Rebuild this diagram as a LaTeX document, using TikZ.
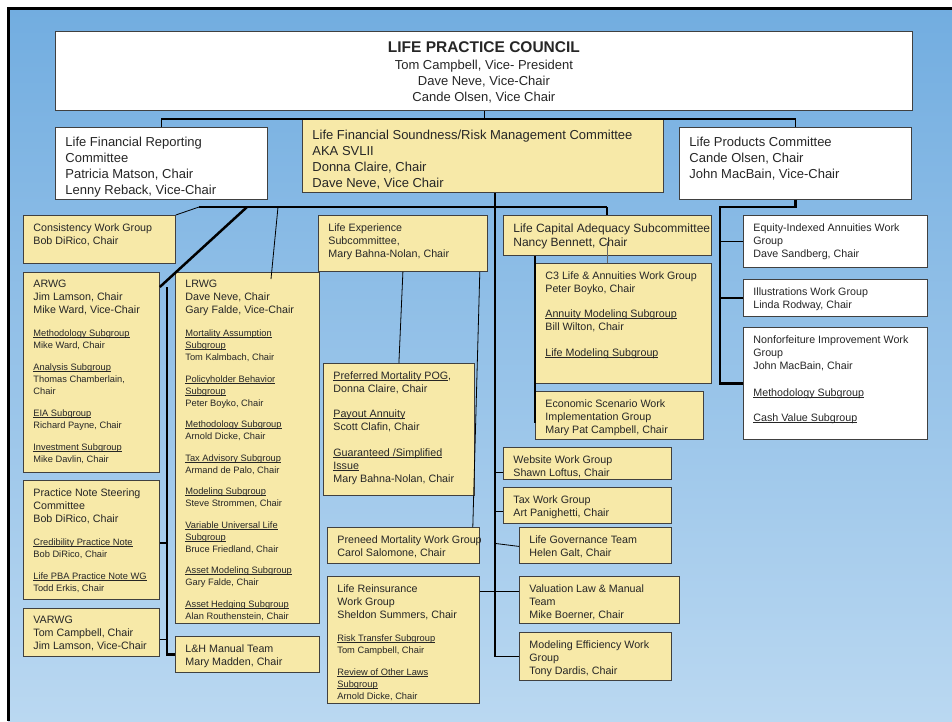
\documentclass[tikz,border=0pt]{standalone}
\usepackage{fontspec}
\setmainfont{Liberation Sans}

\definecolor{boxyellow}{RGB}{247,233,168}
\definecolor{bgtop}{RGB}{114,173,224}
\definecolor{bgbot}{RGB}{186,216,241}

\newcommand{\txttitle}{\fontsize{15.5}{17}\selectfont\bfseries}
\newcommand{\txttop}{\fontsize{13}{16}\selectfont}
\newcommand{\txtmid}{\fontsize{12}{14}\selectfont}
\newcommand{\txtbody}{\fontsize{10.7}{13}\selectfont}
\newcommand{\txtsmall}{\fontsize{9.3}{12}\selectfont}
% box body: [top pad] width, height, text
\newcommand{\boxtxt}[4][8pt]{\parbox[c][#3][t]{#2}{\raggedright\leftskip=10pt\vspace*{#1}#4}}
% underline close to the baseline
\newsavebox{\undlbox}
\newcommand{\undl}[1]{\leavevmode\sbox{\undlbox}{#1}\rlap{\rule[-1.3pt]{\wd\undlbox}{0.7pt}}\usebox{\undlbox}}

\begin{document}
\begin{tikzpicture}[x=1pt, y=-1pt,
    ybox/.style = {draw=black!75, line width=0.8pt, fill=boxyellow,
                   inner sep=0pt, anchor=north west, text=black!85},
    wbox/.style = {ybox, fill=white},
    link/.style = {draw=black, line width=0.8pt},
    bus/.style = {draw=black, line width=1.7pt},
    heavy/.style = {draw=black, line width=2.5pt}]
  \useasboundingbox (0,0) rectangle (952,721);
  \fill[white] (0,0) rectangle (952,721);
  \shade[top color=bgtop, bottom color=bgbot] (8,8) rectangle (952,721);
  \draw[line width=3pt] (952,8) -- (8,8) -- (8,721);

  % council and committees
  \node[wbox] (council) at (55,31) {\parbox[c][79pt][t]{857pt}{\centering\vspace*{10pt}%
      {\txttitle LIFE PRACTICE COUNCIL\par}\vspace{1pt}%
      \txttop Tom Campbell, Vice- President\\Dave Neve, Vice-Chair\\Cande Olsen, Vice Chair\par}};
  \node[wbox] (lfr) at (55,127) {\boxtxt[10pt]{212pt}{72pt}{\txttop Life Financial Reporting\\Committee\\Patricia Matson, Chair\\Lenny Reback, Vice-Chair}};
  \node[ybox] (svl) at (302,119) {\boxtxt[11pt]{361pt}{73pt}{\txttop Life Financial Soundness/Risk Management Committee\\AKA SVLII\\Donna Claire, Chair\\Dave Neve, Vice Chair}};
  \node[wbox] (lpc) at (679,127) {\boxtxt[10pt]{232pt}{72pt}{\txttop Life Products Committee\\Cande Olsen, Chair\\John MacBain, Vice-Chair}};

  % left column
  \node[ybox] (cwg) at (23,215) {\boxtxt{152pt}{48pt}{\txtbody Consistency Work Group\\Bob DiRico, Chair}};
  \node[ybox] (arwg) at (23,272) {\boxtxt{136pt}{200pt}{\txtbody ARWG\\Jim Lamson, Chair\\Mike Ward, Vice-Chair\par
      \vspace{11pt}\txtsmall\undl{Methodology Subgroup}\\Mike Ward, Chair\par
      \vspace{10pt}\undl{Analysis Subgroup}\\Thomas Chamberlain,\\Chair\par
      \vspace{10pt}\undl{EIA Subgroup}\\Richard Payne, Chair\par
      \vspace{10pt}\undl{Investment Subgroup}\\Mike Davlin, Chair}};
  \node[ybox] (pnsc) at (23,480) {\boxtxt{136pt}{119pt}{\txtbody Practice Note Steering\\Committee\\Bob DiRico, Chair\par
      \vspace{11pt}\txtsmall\undl{Credibility Practice Note}\\Bob DiRico, Chair\par
      \vspace{10pt}\undl{Life PBA Practice Note WG}\\Todd Erkis, Chair}};
  \node[ybox] (varwg) at (23,608) {\boxtxt{136pt}{48pt}{\txtbody VARWG\\Tom Campbell, Chair\\Jim Lamson, Vice-Chair}};

  % LRWG column
  \node[ybox] (lrwg) at (175,272) {\boxtxt{144pt}{351pt}{\txtbody LRWG\\Dave Neve, Chair\\Gary Falde, Vice-Chair\par
      \vspace{11pt}\txtsmall\undl{Mortality Assumption}\\\undl{Subgroup}\\Tom Kalmbach, Chair\par
      \vspace{9.5pt}\undl{Policyholder Behavior}\\\undl{Subgroup}\\Peter Boyko, Chair\par
      \vspace{9.5pt}\undl{Methodology Subgroup}\\Arnold Dicke, Chair\par
      \vspace{9.5pt}\undl{Tax Advisory Subgroup}\\Armand de Palo, Chair\par
      \vspace{9.5pt}\undl{Modeling Subgroup}\\Steve Strommen, Chair\par
      \vspace{9.5pt}\undl{Variable Universal Life}\\\undl{Subgroup}\\Bruce Friedland, Chair\par
      \vspace{9.5pt}\undl{Asset Modeling Subgroup}\\Gary Falde, Chair\par
      \vspace{9.5pt}\undl{Asset Hedging Subgroup}\\Alan Routhenstein, Chair}};
  \node[ybox] (lhm) at (175,636) {\boxtxt{144pt}{36pt}{\txtbody L\&H Manual Team\\Mary Madden, Chair}};

  % experience column
  \node[ybox] (lexp) at (318,215) {\boxtxt{169pt}{56pt}{\txtbody Life Experience\\Subcommittee,\\Mary Bahna-Nolan, Chair}};
  \node[ybox] (pmpog) at (323,363) {\boxtxt{151pt}{132pt}{\txtbody \undl{Preferred Mortality POG},\\Donna Claire, Chair\\[12.5pt]
      \undl{Payout Annuity}\\Scott Clafin, Chair\\[12.5pt]
      \undl{Guaranteed /Simplified}\\\undl{Issue}\\Mary Bahna-Nolan, Chair}};
  \node[ybox] (preneed) at (327,527) {\boxtxt{152pt}{36pt}{\txtbody \mbox{Preneed Mortality Work Group}\\Carol Salomone, Chair}};
  \node[ybox] (reins) at (327,576) {\boxtxt{152pt}{127pt}{\txtbody Life Reinsurance\\Work Group\\Sheldon Summers, Chair\par
      \vspace{11pt}\txtsmall\undl{Risk Transfer Subgroup}\\Tom Campbell, Chair\par
      \vspace{10pt}\undl{Review of Other Laws}\\\undl{Subgroup}\\Arnold Dicke, Chair}};

  % capital column
  \node[ybox] (lca) at (503,215) {\boxtxt{208pt}{40pt}{\txtmid \mbox{Life Capital Adequacy Subcommittee}\\Nancy Bennett, Chair}};
  \node[ybox] (c3) at (535,263) {\boxtxt{176pt}{120pt}{\txtbody C3 Life \& Annuities Work Group\\Peter Boyko, Chair\\[12.5pt]
      \undl{Annuity Modeling Subgroup}\\Bill Wilton, Chair\\[12.5pt]
      \undl{Life Modeling Subgroup}}};
  \node[ybox] (esw) at (535,391) {\boxtxt{168pt}{48pt}{\txtbody Economic Scenario Work\\Implementation Group\\Mary Pat Campbell, Chair}};
  \node[ybox] (web) at (503,447) {\boxtxt{168pt}{32pt}{\txtbody Website Work Group\\Shawn Loftus, Chair}};
  \node[ybox] (tax) at (503,487) {\boxtxt{168pt}{36pt}{\txtbody Tax Work Group\\Art Panighetti, Chair}};
  \node[ybox] (gov) at (519,527) {\boxtxt{152pt}{36pt}{\txtbody Life Governance Team\\Helen Galt, Chair}};
  \node[ybox] (vlm) at (519,576) {\boxtxt{160pt}{47pt}{\txtbody Valuation Law \& Manual\\Team\\Mike Boerner, Chair}};
  \node[ybox] (mew) at (519,632) {\boxtxt{152pt}{48pt}{\txtbody Modeling Efficiency Work\\Group\\Tony Dardis, Chair}};

  % products column
  \node[wbox] (eia) at (743,215) {\boxtxt{184pt}{52pt}{\txtbody Equity-Indexed Annuities Work\\Group\\Dave Sandberg, Chair}};
  \node[wbox] (illus) at (743,279) {\boxtxt{184pt}{37pt}{\txtbody Illustrations Work Group\\Linda Rodway, Chair}};
  \node[wbox] (nonf) at (743,327) {\boxtxt{184pt}{112pt}{\txtbody Nonforfeiture Improvement Work\\Group\\John MacBain, Chair\\[14pt]
      \undl{Methodology Subgroup}\\[12pt]
      \undl{Cash Value Subgroup}}};

  % connectors
  \coordinate (barL) at (199,207);
  \coordinate (barR) at (607,207);
  \coordinate (tapA) at (247,207);
  \coordinate (tapL) at (278,207);
  \coordinate (spx) at (495,207);
  \coordinate (arx) at (167,287);
  \coordinate (rx) at (720,207);

  \draw[link] (council.south) -- ++(0,9);
  \draw[bus] (lfr.north) -- ++(0,-8) -| (lpc.north);
  \draw[bus] (svl.south -| spx) |- (mew.west);
  \draw[bus] (barL) -- (barR);
  \draw[link] (barL) -- (cwg.north east);
  \draw[heavy] (tapA) -- ([yshift=-15pt]arwg.north east);
  \draw[link] (tapL) -- ([shift={(96pt,-7pt)}]lrwg.north west);
  \draw[heavy] (arx) |- (lhm.west);
  \draw[bus] ([yshift=-3pt]pnsc.east) -- ++(8,0);
  \draw[bus] ([yshift=-7pt]varwg.east) -- ++(8,0);

  \draw[link] (lexp.south) -- (pmpog.north);
  \draw[link] ([xshift=-8pt]lexp.south east) -- ([xshift=-7pt]preneed.north east);
  \draw[link] ([yshift=-15pt]reins.north east) -- ++(16,0);

  \draw[bus] (barR) -- (barR |- lca.north);
  \draw[link, draw=black!60] (barR |- lca.south) ++(0,-14) -- (barR |- c3.north);
  \draw[bus] (lca.south -| c3.west) -- ([yshift=-8pt]esw.west);
  \draw[bus] ([yshift=-9pt]web.west) -- ++(-8,0);
  \draw[bus] ([yshift=-6pt]tax.west) -- ++(-8,0);
  \draw[link] ([yshift=-1pt]gov.west) -- ++(-24,-3);
  \draw[bus] ([yshift=8.5pt]vlm.west) -- ++(-24,0);

  \draw[heavy] (lpc.south) |- (rx) |- (nonf.west);
  \draw[bus] (eia.west) -- (eia.west -| rx);
  \draw[bus] (illus.west) -- (illus.west -| rx);
\end{tikzpicture}
\end{document}
